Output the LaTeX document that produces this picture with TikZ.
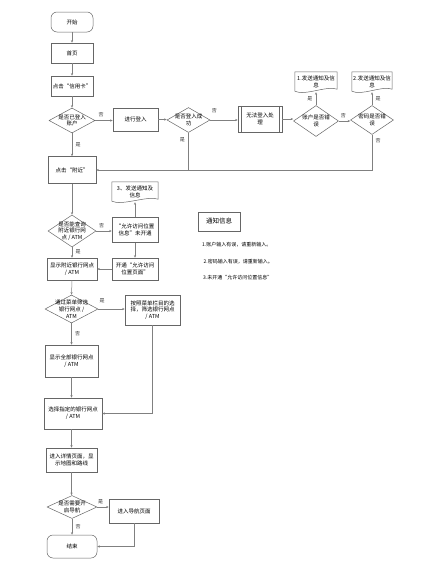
\documentclass[tikz,border=0pt]{standalone}
\usepackage{fontspec}
\newfontfamily\cjk{Noto Sans CJK SC}
\usetikzlibrary{shapes.geometric,arrows.meta}

% wavy bottom edge of a document box
\newcommand\docline[1]{%
  \draw[black!60, line width=0.5pt] (#1.north west) -- (#1.north east)
    -- ([yshift=3pt]#1.south east)
    .. controls ([xshift=-10pt,yshift=7pt]#1.south east) and ([xshift=10pt,yshift=-4pt]#1.south west)
    .. ([yshift=1pt]#1.south west) -- cycle;}

\begin{document}
\begin{tikzpicture}[
  x=1pt, y=-1pt,
  font=\cjk\fontsize{5.5}{6.8}\selectfont,
  box/.style={
    rectangle, draw=black!60, fill=white, line width=0.5pt,
    align=center, inner sep=1pt
  },
  term/.style={box, rounded corners=6pt},
  decide/.style={
    diamond, draw=black!60, fill=white, line width=0.5pt, inner sep=0pt
  },
  dtext/.style={align=center, inner sep=0pt},
  doc/.style={align=center, inner sep=1pt},
  flow/.style={black!50, line width=0.5pt, -{Stealth[length=2.6pt,width=2.2pt]}},
  link/.style={black!50, line width=0.5pt},
  ans/.style={font=\cjk\fontsize{5}{6}\selectfont, black!80},
  note/.style={font=\cjk\fontsize{5}{6}\selectfont, anchor=west, inner sep=0pt},
]
\useasboundingbox (0,0) rectangle (440,565);

% Login part
\node[term, minimum width=42pt, minimum height=20pt] (s0) at (72,22) {开始};
\node[box, minimum width=42pt, minimum height=20pt] (p1) at (72,53) {首页};
\node[box, minimum width=42pt, minimum height=20pt] (p2) at (72,86) {点击“信用卡”};
\node[decide, minimum width=46pt, minimum height=25pt,
  label={[dtext]center:{是否已登入\\账户}}] (d1) at (72,120.5) {};
\node[box, minimum width=45pt, minimum height=23pt] (p3) at (135.5,119.5) {进行登入};
\node[decide, minimum width=43pt, minimum height=25pt,
  label={[dtext]center:{是否登入成\\功}}] (d2) at (188.5,120) {};
\node[box, minimum width=44pt, minimum height=26pt] (p4) at (260,119) {无法登入处\\理};
\draw[black!60, line width=0.5pt] ([xshift=3.5pt]p4.north west) -- ([xshift=3.5pt]p4.south west)
  ([xshift=-3.5pt]p4.north east) -- ([xshift=-3.5pt]p4.south east);
\node[decide, minimum width=45pt, minimum height=31pt,
  label={[dtext]center:{账户是否错\\误}}] (d3) at (316,121) {};
\node[decide, minimum width=43pt, minimum height=29pt,
  label={[dtext]center:{密码是否错\\误}}] (d4) at (372,120) {};
\node[doc, minimum width=42pt, minimum height=20pt] (m1) at (316,82) {1.发送通知及信\\息};
\node[doc, minimum width=40pt, minimum height=20pt] (m2) at (372,82) {2.发送通知及信\\息};
\docline{m1}
\docline{m2}

% Nearby part
\node[box, minimum width=48pt, minimum height=27pt] (p5) at (72,170) {点击“附近”};
\node[decide, minimum width=48pt, minimum height=32pt,
  label={[dtext]center:{是否能查询\\附近银行网\\点 / ATM}}] (d5) at (72,231) {};
\node[box, minimum width=46pt, minimum height=25pt] (p6) at (135,230) {“允许访问位置\\信息”未开通};
\node[doc, minimum width=46pt, minimum height=20pt] (m3) at (135,192) {3、发送通知及\\信息};
\docline{m3}
\node[box, minimum width=46pt, minimum height=22pt] (p7) at (135,269) {开通“允许访问\\位置页面”};
\node[box, minimum width=50pt, minimum height=22pt] (p8) at (72,269) {显示附近银行网点\\/ ATM};
\node[decide, minimum width=53pt, minimum height=28pt,
  label={[dtext]center:{通过菜单筛选\\银行网点 /\\ATM}}] (d6) at (71.5,309) {};
\node[box, minimum width=55pt, minimum height=30pt] (p9) at (152.5,310) {按照菜单栏目的选\\择，筛选银行网点\\/ ATM};
\node[box, minimum width=53pt, minimum height=32pt] (p10) at (71.5,361) {显示全部银行网点\\/ ATM};
\node[box, minimum width=58pt, minimum height=31pt] (p11) at (73,413.5) {选择指定的银行网点\\/ ATM};
\node[box, minimum width=51pt, minimum height=24pt] (p12) at (71.5,460) {进入详情页面，显\\示地图和路线};
\node[decide, minimum width=50pt, minimum height=23pt,
  label={[dtext]center:{是否需要开\\启导航}}] (d7) at (72,507) {};
\node[box, minimum width=50pt, minimum height=24pt] (p13) at (134,511) {进入导航页面};
\node[term, minimum width=50pt, minimum height=23pt] (s1) at (72,546.5) {结束};

% Notice box
\node[box, minimum width=42pt, minimum height=19pt, font=\cjk\fontsize{6.5}{8}\selectfont] (k0) at (219,221.5) {通知信息};
\node[note] (k1) at (202,245) {1.账户输入有误，请重新输入。};
\node[note] (k2) at (203.5,262) {2.密码输入有误，请重新输入。};
\node[note] (k3) at (203,278) {3.未开通“允许访问位置信息”};

% connectors
\draw[flow] (s0) -- (p1);
\draw[flow] (p1) -- (p2);
\draw[flow] (p2) -- (d1);
\draw[flow] (d1.east) -- node[ans, pos=0.33, above] {否} (p3.west |- d1.east);
\draw[flow] (p3.east) -- (d2.west |- p3.east);
\draw[flow] (d2.east) -- node[ans, pos=0.15, above=4pt] {否} (p4.west |- d2.east);
\draw[flow] (p4.east) -- (d3.west |- p4.east);
\draw[flow] (d3.east) -- node[ans, pos=0.4, above] {否} (d4.west |- d3.east);
\draw[flow] (d3.north) -- node[ans, midway, left] {是} (m1.south);
\draw[flow] (d4.north) -- node[ans, midway, right] {是} (m2.south);
\draw[flow] (d4.south) |- node[ans, pos=0.08, right] {否} (p5.east);
\draw[link] (d2.south) -- node[ans, pos=0.2, left] {是} (d2.south |- p5.east);
\draw[flow] (d1.south) -- node[ans, midway, right] {是} (p5.north);

\draw[flow] (p5.south) -- (d5.north);
\draw[flow] (d5.east) -- node[ans, pos=0.35, above] {否} (p6.west |- d5.east);
\draw[flow] (p6.north) -- (m3.south);
\draw[flow] (p6.south) -- (p7.north);
\draw[flow] (p7.west) -- (p8.east);
\draw[flow] (d5.south) -- node[ans, pos=0.4, right] {是} (p8.north);
\draw[flow] (p8.south) -- (d6.north);
\draw[flow] (d6.east) -- node[ans, pos=0.15, above=3pt] {是} (p9.west |- d6.east);
\draw[flow] (d6.south) -- node[ans, midway, right] {否} (p10.north);
\draw[flow] (p10.south) -- (p11.north -| p10.south);
\draw[flow] (p9.south) |- (p11.east);
\draw[flow] (p11.south -| p12.north) -- (p12.north);
\draw[flow] (p12.south) -- (d7.north -| p12.south);
\draw[flow] (d7.east) -- node[ans, pos=0.3, above] {是} (p13.west |- d7.east);
\draw[flow] (d7.south) -- node[ans, midway, right] {否} (s1.north);
\draw[flow] (p13.south) |- (s1.east);

\end{tikzpicture}
\end{document}
